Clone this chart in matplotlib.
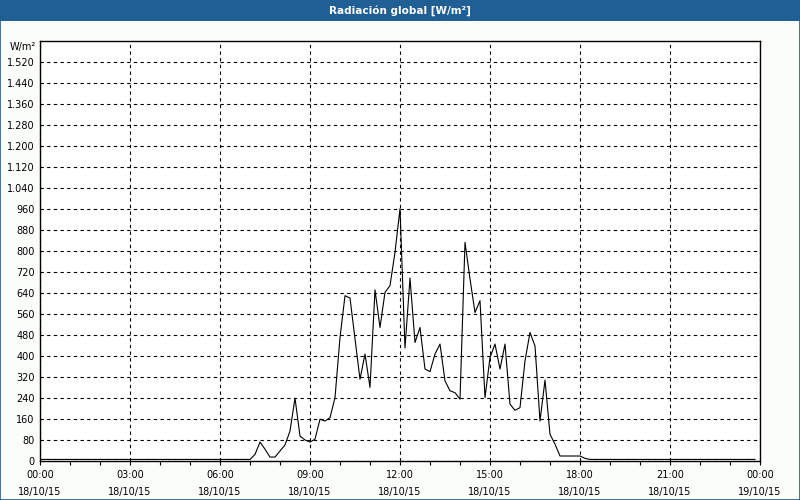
import matplotlib
matplotlib.use("Agg")
import matplotlib.pyplot as plt
from matplotlib.ticker import MultipleLocator, FuncFormatter
from matplotlib.patches import Rectangle

# time of day (hh:mm) and global radiation in W/m2, 18/10/15
times = ["00:00", "06:50", "07:00", "07:10", "07:20", "07:30", "07:40", "07:50",
         "08:00", "08:10", "08:20", "08:30", "08:40", "08:50", "09:00", "09:10",
         "09:20", "09:30", "09:40", "09:50", "10:00", "10:10", "10:20", "10:30",
         "10:40", "10:50", "11:00", "11:10", "11:20", "11:30", "11:40", "11:50",
         "12:00", "12:10", "12:20", "12:30", "12:40", "12:50", "13:00", "13:10",
         "13:20", "13:30", "13:40", "13:50", "14:00", "14:10", "14:20", "14:30",
         "14:40", "14:50", "15:00", "15:10", "15:20", "15:30", "15:40", "15:50",
         "16:00", "16:10", "16:20", "16:30", "16:40", "16:50", "17:00", "17:10",
         "17:20", "17:30", "17:40", "17:50", "18:00", "18:10", "18:20", "23:50"]
values = [6, 6, 6, 25, 72, 45, 15, 15,
          38, 61, 114, 239, 95, 80, 72, 83,
          159, 152, 165, 241, 470, 629, 620, 465,
          311, 407, 280, 651, 508, 642, 667, 794,
          960, 430, 696, 451, 508, 350, 340, 407,
          445, 305, 267, 260, 235, 832, 693, 565,
          610, 241, 394, 445, 350, 445, 216, 193,
          203, 381, 489, 438, 152, 308, 102, 64,
          19, 19, 19, 19, 19, 10, 6, 6]

tick_hours = [0, 3, 6, 9, 12, 15, 18, 21, 24]
tick_labels = ["00:00\n18/10/15", "03:00\n18/10/15", "06:00\n18/10/15",
               "09:00\n18/10/15", "12:00\n18/10/15", "15:00\n18/10/15",
               "18:00\n18/10/15", "21:00\n18/10/15", "00:00\n19/10/15"]

hours = [int(t[:2]) + int(t[3:]) / 60 for t in times]

plt.rcParams['font.family'] = ['DejaVu Sans']
fig = plt.figure(figsize=(8, 5), dpi=100, facecolor='#fbfdfb')

# title bar and frame
fig.patches.append(Rectangle((0, 0.959), 1, 0.041, transform=fig.transFigure,
                             facecolor='#1f5f94', edgecolor='none'))
fig.patches.append(Rectangle((0.0006, 0.001), 0.9988, 0.998, transform=fig.transFigure,
                             facecolor='none', edgecolor='#1f5f94', lw=1.2))
fig.text(0.5, 0.979, "Radiación global [W/m²]", color='white', fontsize=7.5,
         fontweight='bold', ha='center', va='center')

ax = fig.add_axes([0.05, 0.078, 0.90, 0.841])
ax.set_facecolor('white')
ax.plot(hours, values, color='black', lw=0.8)

ax.set_xlim(0, 24)
ax.set_ylim(0, 1600)
ax.set_xticks(tick_hours)
ax.set_xticklabels(tick_labels, fontsize=7, linespacing=1.9)
ax.xaxis.set_minor_locator(MultipleLocator(1))
ax.tick_params(axis='x', which='both', direction='out', length=3, width=0.8, pad=3.5)

ax.set_yticks(range(0, 1600, 80))
ax.yaxis.set_major_formatter(FuncFormatter(lambda v, p: f"{int(v):,}".replace(",", ".")))
ax.tick_params(axis='y', length=0, pad=4, labelsize=7)

ax.grid(True, color='black', linestyle=(0, (3, 3)), lw=0.8)
for s in ax.spines.values():
    s.set_linewidth(1.0)
    s.set_color('black')

ax.text(-0.006, 0.985, "W/m²", transform=ax.transAxes, ha='right', va='center', fontsize=7)

fig.savefig("out.png", dpi=100, facecolor=fig.get_facecolor())
